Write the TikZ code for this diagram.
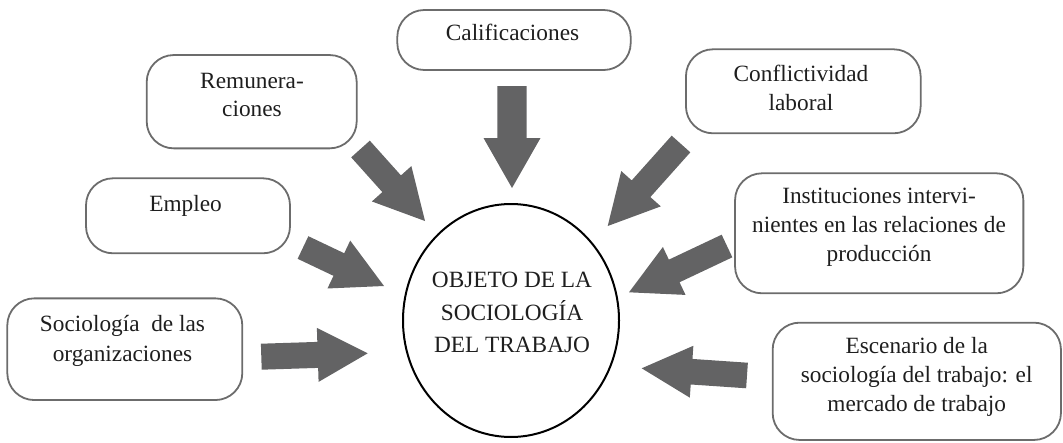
\documentclass[tikz,border=0pt]{standalone}
\usepackage{fontspec}
\setmainfont{Liberation Serif}
\usetikzlibrary{calc,shapes.geometric}
\definecolor{arrowfill}{RGB}{99,99,100}
\definecolor{boxline}{RGB}{108,108,108}
\definecolor{inktext}{RGB}{30,30,30}
\newcommand{\blockarr}[4]{%
  \path ($(#4)!50pt!(#3)$) coordinate (hb);
  \fill[arrowfill] ($(#3)!#1!90:(#4)$) -- ($(hb)!#1!90:(#4)$) -- ($(hb)!#2!90:(#4)$) -- (#4)
    -- ($(hb)!#2!-90:(#4)$) -- ($(hb)!#1!-90:(#4)$) -- ($(#3)!#1!-90:(#4)$) -- cycle;
}
\begin{document}
\begin{tikzpicture}[x=1pt,y=-1pt,
  box/.style={draw=boxline,line width=1.8pt,rounded corners=27pt,inner sep=0pt},
  txt/.style={inner sep=0pt,anchor=base,align=center,text=inktext,font=\fontsize{23.3}{29}\selectfont},
  ctxt/.style={inner sep=0pt,anchor=base,align=center,text=inktext,font=\fontsize{23.3}{32.5}\selectfont}]
\useasboundingbox (0,0) rectangle (1063,442);
% boxes
\node[box,minimum width=233.4pt,minimum height=60pt] (cal) at (514,40) {};
\node[txt] (calt) at (512.5,40.7) {Calificaciones};
\node[box,minimum width=210pt,minimum height=93.3pt] (rem) at (251.7,101.7) {};
\node[txt,font=\fontsize{23.3}{27.5}\selectfont] (remt) at (252,116) {Remunera-\\ciones};
\node[box,minimum width=234.7pt,minimum height=84pt] (con) at (803.3,91.3) {};
\node[txt] (cont) at (801,110) {Conflictividad\\laboral};
\node[box,minimum width=204pt,minimum height=75pt] (emp) at (188,215.8) {};
\node[txt] (empt) at (185.5,211.7) {Empleo};
\node[box,minimum width=235pt,minimum height=101.7pt] (soc) at (124.8,349.2) {};
\node[txt,font=\fontsize{23.3}{30}\selectfont] (soct) at (122.5,361.7) {Sociología\ \ de las\\organizaciones};
\node[box,minimum width=288.3pt,minimum height=120pt] (ins) at (879.2,233.3) {};
\node[txt] (inst) at (879,261.7) {Instituciones intervi-\\nientes en las relaciones de\\producción};
\node[box,minimum width=288.3pt,minimum height=117.3pt] (esc) at (916.8,381.3) {};
\node[txt] (esct) at (916.7,411.7) {Escenario de la\\sociología del trabajo: el\\mercado de trabajo};
% centre
\node[draw=black,line width=2pt,ellipse,inner sep=0pt,minimum width=216pt,minimum height=233pt] (obj) at (511,320.5) {};
\node[ctxt] (objt) at (512,352.6) {OBJETO DE LA\\SOCIOLOGÍA\\DEL TRABAJO};
% arrow ends
\coordinate (calS) at (512,86);    \coordinate (calE) at (512,188);
\coordinate (remS) at (360.5,149); \coordinate (remE) at (425,221);
\coordinate (conS) at (681,144);   \coordinate (conE) at (607.7,226);
\coordinate (empS) at (303,247.5); \coordinate (empE) at (384,286);
\coordinate (socS) at (261.3,356.7); \coordinate (socE) at (367.7,353.3);
\coordinate (insS) at (727,246);   \coordinate (insE) at (629,292.3);
\coordinate (escS) at (747,375.5); \coordinate (escE) at (641.7,368.3);
\blockarr{14.7pt}{28.5pt}{calS}{calE}
\blockarr{12.5pt}{26.5pt}{remS}{remE}
\blockarr{12.5pt}{26.5pt}{conS}{conE}
\blockarr{12.5pt}{26.5pt}{empS}{empE}
\blockarr{13pt}{27pt}{socS}{socE}
\blockarr{12.5pt}{26.5pt}{insS}{insE}
\blockarr{12.8pt}{26pt}{escS}{escE}
\end{tikzpicture}
\end{document}
